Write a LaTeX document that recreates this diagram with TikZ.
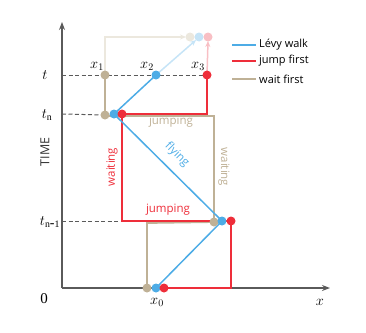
\documentclass[tikz,border=0pt]{standalone}
\usepackage{fontspec}
\setmainfont{Liberation Serif}
\setsansfont{Open Sans}
\usetikzlibrary{arrows.meta}
\definecolor{lblue}{HTML}{4DACE6}
\definecolor{lred}{HTML}{EE2E3A}
\definecolor{ltan}{HTML}{BFB196}
\definecolor{fblue}{HTML}{C6E4F7}
\definecolor{fred}{HTML}{F8BFC4}
\definecolor{ftan}{HTML}{ECE8DE}
\definecolor{axgray}{HTML}{5A5A5A}
\tikzset{
  dot/.style={circle,fill=#1,inner sep=0pt,minimum size=9pt},
  pathline/.style={draw=#1,line width=1.8pt},
  faint/.style={draw=#1,line width=1.5pt,-{Stealth[length=6pt,width=5pt]}},
  axis/.style={draw=axgray,line width=1.3pt,-{Stealth[length=8pt,width=6pt]}},
  guide/.style={draw=axgray,line width=1pt,dash pattern=on 4pt off 2.5pt},
  mlabel/.style={font=\fontsize{14}{14}\selectfont},
  slabel/.style={font=\sffamily\fontsize{11.5}{12}\selectfont,inner sep=1pt},
  legtext/.style={font=\sffamily\fontsize{11}{12}\selectfont,anchor=west,inner sep=0pt}
}
\begin{document}
\begin{tikzpicture}[x=1pt,y=-1pt]
\useasboundingbox (0,0) rectangle (366,332);
% axes
\coordinate (O) at (62,288);
\coordinate (ytop) at (62,22);
\coordinate (xend) at (330,288);
\coordinate (yt) at (62,75);
\coordinate (ytn) at (62,114);
\coordinate (ytn1) at (62,221);
\draw[axis] (O) -- (ytop);
\draw[axis] (O) -- (xend);
% dot positions
\coordinate (tan0) at (147,288);
\coordinate (blue0) at (156,288);
\coordinate (red0) at (164,288);
\coordinate (tan1) at (214,222);
\coordinate (blue1) at (222,221);
\coordinate (red1) at (231,221);
\coordinate (tan2) at (105,115);
\coordinate (blue2) at (114,114);
\coordinate (red2) at (122,114);
\coordinate (tan3) at (105,75);
\coordinate (blue3) at (156,75);
\coordinate (red3) at (207,75);
\coordinate (tan4) at (190,37);
\coordinate (blue4) at (199,37);
\coordinate (red4) at (208,37);
% dashed guides
\draw[guide] (yt) -- (red3);
\draw[guide] (ytn) -- (tan2);
\draw[guide] (ytn1) -- (122,221);
% faint continuations
\coordinate (tancorner) at (105,37);
\draw[faint=ftan] (tan3) -- (tancorner) -- ([xshift=-4pt]tan4);
\draw[faint=fblue] (blue3) -- ([xshift=-3pt,yshift=-3pt]blue4);
\draw[faint=fred] (red3) -- ([yshift=-4pt]red4);
% tan (wait first)
\coordinate (ta) at (147,223);
\coordinate (tb) at (214,116);
\draw[pathline=ltan] (tan0) -- (ta) -- (tan1) -- (tb) -- (tan2 |- tb) -- (tan2) -- (tan3);
% red (jump first)
\coordinate (ra) at (231,288);
\coordinate (rb) at (122,221);
\coordinate (rc) at (207,114);
\draw[pathline=lred] (red0) -- (ra) -- (red1) -- (rb) -- (red2) -- (rc) -- (red3);
% blue (Levy walk)
\draw[draw=lblue,line width=1.5pt] (blue0) -- (blue1) -- (blue2) -- (blue3);
% dots
\node[dot=ftan] (d-tan4) at (tan4) {};
\node[dot=fblue] (d-blue4) at (blue4) {};
\node[dot=fred] (d-red4) at (red4) {};
\foreach \i in {0,1,2,3}{
  \node[dot=ltan] (d-tan\i) at (tan\i) {};
  \node[dot=lblue] (d-blue\i) at (blue\i) {};
  \node[dot=lred] (d-red\i) at (red\i) {};
}
% axis labels
\node[mlabel] (lt) at (45,75) {$t$};
\node[mlabel] (ltn) at (47,115) {$t_{\mathrm{n}}$};
\node[mlabel] (ltn1) at (50,222) {$t_{\mathrm{n}\mbox{-}\mathrm{1}}$};
\node[font=\fontsize{15}{15}\selectfont] (l0) at (44,299) {0};
\node[mlabel] (lx0) at (157,302) {$x_0$};
\node[mlabel] (lx) at (320,302) {$x$};
\node[mlabel] (lx1) at (97,66) {$x_1$};
\node[mlabel] (lx2) at (147,66) {$x_2$};
\node[mlabel] (lx3) at (198,66) {$x_3$};
\node[font=\sffamily\fontsize{12.5}{13}\selectfont,rotate=90,text=black!80] (time) at (45,152) {TIME};
% path labels
\node[slabel,text=ltan] (jt) at (171,122) {jumping};
\node[slabel,text=lred] (jr) at (168,210) {jumping};
\node[slabel,text=lred,rotate=90] (wr) at (112,167) {waiting};
\node[slabel,text=ltan,rotate=-90] (wt) at (224,167) {waiting};
\node[slabel,text=lblue,rotate=-45,inner sep=0pt] (fl) at (177,155) {flying};
% legend
\coordinate (lg1a) at (232,45); \coordinate (lg1b) at (256,45);
\coordinate (lg2a) at (232,61); \coordinate (lg2b) at (256,61);
\coordinate (lg3a) at (232,79); \coordinate (lg3b) at (256,79);
\draw[draw=lblue,line width=1.6pt] (lg1a) -- (lg1b);
\draw[draw=lred,line width=1.6pt] (lg2a) -- (lg2b);
\draw[draw=ltan,line width=1.6pt] (lg3a) -- (lg3b);
\node[legtext] (lt1) at (259,45) {Lévy walk};
\node[legtext] (lt2) at (259,61) {jump first};
\node[legtext] (lt3) at (259,79) {wait first};
\end{tikzpicture}
\end{document}
